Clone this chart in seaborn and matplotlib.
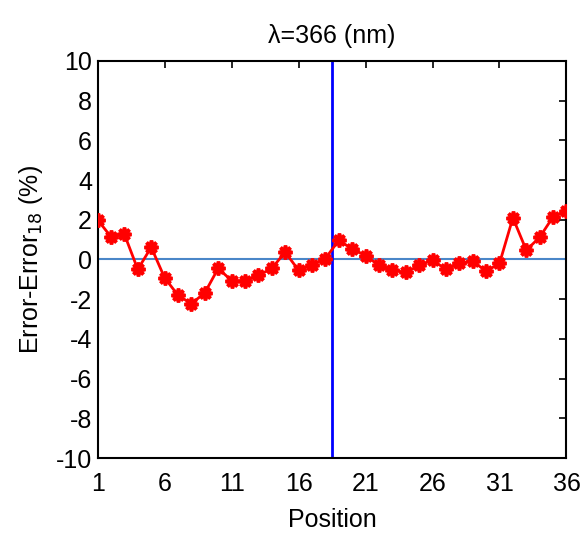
import matplotlib
matplotlib.use("Agg")
import matplotlib.pyplot as plt
import seaborn as sns
import pandas as pd

positions = list(range(1, 37))
error_diff = [2.0, 1.14, 1.27, -0.5, 0.62, -0.92, -1.8, -2.23, -1.68, -0.45,
              -1.06, -1.09, -0.8, -0.45, 0.37, -0.54, -0.29, 0.05, 0.96, 0.54,
              0.2, -0.3, -0.54, -0.65, -0.3, -0.03, -0.5, -0.2, -0.08, -0.59,
              -0.2, 2.1, 0.47, 1.12, 2.15, 2.43]
ref_position = 18.5
x_ticks = [1, 6, 11, 16, 21, 26, 31, 36]
y_ticks = list(range(-10, 11, 2))

sns.set_style("white")
plt.rcParams['font.family'] = ['Liberation Sans', 'DejaVu Sans']
plt.rcParams['axes.unicode_minus'] = False
plt.rcParams['text.color'] = 'black'
plt.rcParams['axes.labelcolor'] = 'black'

df = pd.DataFrame({"Position": positions, "Diff": error_diff})

fig = plt.figure(figsize=(5.81, 5.34), dpi=100)
ax = fig.add_axes([0.168, 0.1423, 0.807, 0.7435])

ax.axhline(0, color="#4a86c8", lw=1.5, zorder=1)
ax.axvline(ref_position, color="#0000ff", lw=2, zorder=1)
sns.lineplot(data=df, x="Position", y="Diff", ax=ax, color="red", lw=2,
             marker=(8, 2, 0), markersize=10, markeredgewidth=2.6,
             markeredgecolor="red", markerfacecolor="red", zorder=3)

ax.set_xlim(1, 36)
ax.set_ylim(-10, 10)
ax.set_xticks(x_ticks)
ax.set_yticks(y_ticks)
ax.tick_params(direction="in", length=5, width=1.2, top=True, right=True,
               labelsize=18, colors="black")
ax.tick_params(axis="x", pad=10)
ax.tick_params(axis="y", pad=4)
for s in ax.spines.values():
    s.set_color("black")
    s.set_linewidth(1.5)

ax.set_title("λ=366 (nm)", fontsize=18, pad=13)
ax.set_xlabel("Position", fontsize=18, labelpad=9)
ax.set_ylabel("Error-Error$_{18}$ (%)", fontsize=18, labelpad=8)

fig.savefig("out.png", dpi=100)
